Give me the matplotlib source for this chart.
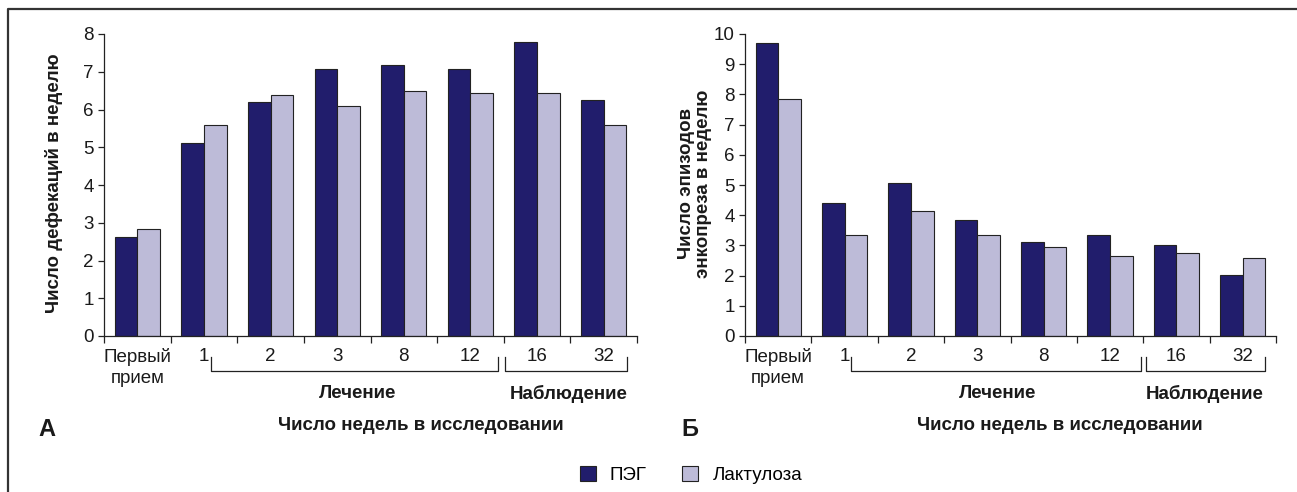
import matplotlib
matplotlib.use("Agg")
import matplotlib.pyplot as plt
from matplotlib.patches import Patch
from matplotlib.lines import Line2D
import matplotlib.transforms as mtransforms
import numpy as np

categories = ["Первый\nприем", "1", "2", "3", "8", "12", "16", "32"]
peg_a = [2.63, 5.12, 6.21, 7.06, 7.17, 7.06, 7.79, 6.26]
lact_a = [2.83, 5.59, 6.38, 6.09, 6.49, 6.44, 6.44, 5.59]
peg_b = [9.71, 4.40, 5.07, 3.85, 3.12, 3.35, 3.00, 2.02]
lact_b = [7.84, 3.35, 4.15, 3.35, 2.94, 2.66, 2.75, 2.58]
series_names = ["ПЭГ", "Лактулоза"]
ylabel_a = "Число дефекаций в неделю"
ylabel_b = "Число эпизодов\nэнкопреза в неделю"
xlabel = "Число недель в исследовании"
group_treat = "Лечение"
group_obs = "Наблюдение"

DARK = "#211d6c"
LIGHT = "#bdbbd8"
EDGE = "#222222"
TXT = "#1a1a1a"

plt.rcParams['font.family'] = ['Liberation Sans', 'DejaVu Sans']

W, H = 1297, 492
fig = plt.figure(figsize=(W / 100, H / 100), dpi=100)

def px_axes(x0, x1, y0, y1):
    return fig.add_axes([x0 / W, 1 - y1 / H, (x1 - x0) / W, (y1 - y0) / H])

ax_a = px_axes(104, 637, 34, 336)
ax_b = px_axes(745, 1276, 34, 336)

TICK_FS = 13.5
BOLD_FS = 13.5

def draw(ax, peg, lact, ymax, ylabel, ylab_x, letter, letter_x, letter_y, br):
    x = np.arange(len(categories))
    bw = 0.34
    ax.bar(x - bw / 2, peg, bw, color=DARK, edgecolor=EDGE, linewidth=0.8)
    ax.bar(x + bw / 2, lact, bw, color=LIGHT, edgecolor=EDGE, linewidth=0.8)
    ax.set_xlim(-0.5, len(categories) - 0.5)
    ax.set_ylim(0, ymax)
    ax.set_yticks(np.arange(0, ymax + 1, 1))
    ax.set_xticks(np.arange(-0.5, len(categories), 1))
    ax.set_xticklabels([])
    ax.tick_params(axis='x', length=5, width=0.9, color=EDGE, direction='out')
    ax.tick_params(axis='y', length=4.5, width=0.9, color=EDGE, direction='out',
                   labelsize=TICK_FS, labelcolor=TXT, pad=3)
    for s in ['top', 'right']:
        ax.spines[s].set_visible(False)
    for s in ['left', 'bottom']:
        ax.spines[s].set_color(EDGE)
        ax.spines[s].set_linewidth(0.9)
    trans = mtransforms.blended_transform_factory(ax.transData, ax.transAxes)
    for i, c in enumerate(categories):
        ax.text(i, -0.04, c, transform=trans, ha='center', va='top',
                fontsize=TICK_FS, color=TXT, linespacing=1.3)
    def bracket(x0, x1):
        ax.plot([x0, x0, x1, x1], [-0.07, -0.116, -0.116, -0.07], transform=trans,
                color=EDGE, lw=0.9, clip_on=False)
    bracket(br[0], br[1])
    bracket(br[2], br[3])
    ax.text(br[4], -0.192, group_treat, transform=trans, ha='center', va='center',
            fontsize=BOLD_FS, fontweight='bold', color=TXT)
    ax.text(br[5], -0.192, group_obs, transform=trans, ha='center', va='center',
            fontsize=BOLD_FS, fontweight='bold', color=TXT)
    ax.text(br[6], -0.295, xlabel, transform=trans, ha='center', va='center',
            fontsize=BOLD_FS, fontweight='bold', color=TXT)
    ax.text(ylab_x, 0.505, ylabel, transform=ax.transAxes, ha='center', va='center',
            rotation=90, fontsize=BOLD_FS, fontweight='bold', color=TXT,
            linespacing=1.0)
    ax.text(letter_x, letter_y, letter, transform=ax.transAxes, ha='center', va='center',
            fontsize=17, fontweight='bold', color=TXT)

draw(ax_a, peg_a, lact_a, 8, ylabel_a, (54 - 104) / 533, "А", (47 - 104) / 533,
     (336 - 429) / 302, [1.107, 5.416, 5.52, 7.35, 3.30, 6.47, 4.26])
draw(ax_b, peg_b, lact_b, 10, ylabel_b, (695 - 745) / 531, "Б", (690 - 745) / 531,
     (336 - 430) / 302, [1.10, 5.46, 5.54, 7.33, 3.30, 6.43, 4.24])

fig.add_artist(Line2D([7.5 / W, 7.5 / W, 1.0], [0.0, 1 - 9 / H, 1 - 9 / H],
                      transform=fig.transFigure, color="#333333", lw=1.6))

handles = [Patch(facecolor=DARK, edgecolor=EDGE, linewidth=0.8),
           Patch(facecolor=LIGHT, edgecolor=EDGE, linewidth=0.8)]
fig.legend(handles, series_names, loc='center', bbox_to_anchor=(691 / W, 1 - 475 / H),
           ncol=2, frameon=False, fontsize=13.5, handlelength=0.85, handleheight=0.85,
           columnspacing=1.9, handletextpad=0.75, borderpad=0.2)

fig.savefig("out.png", dpi=100)
